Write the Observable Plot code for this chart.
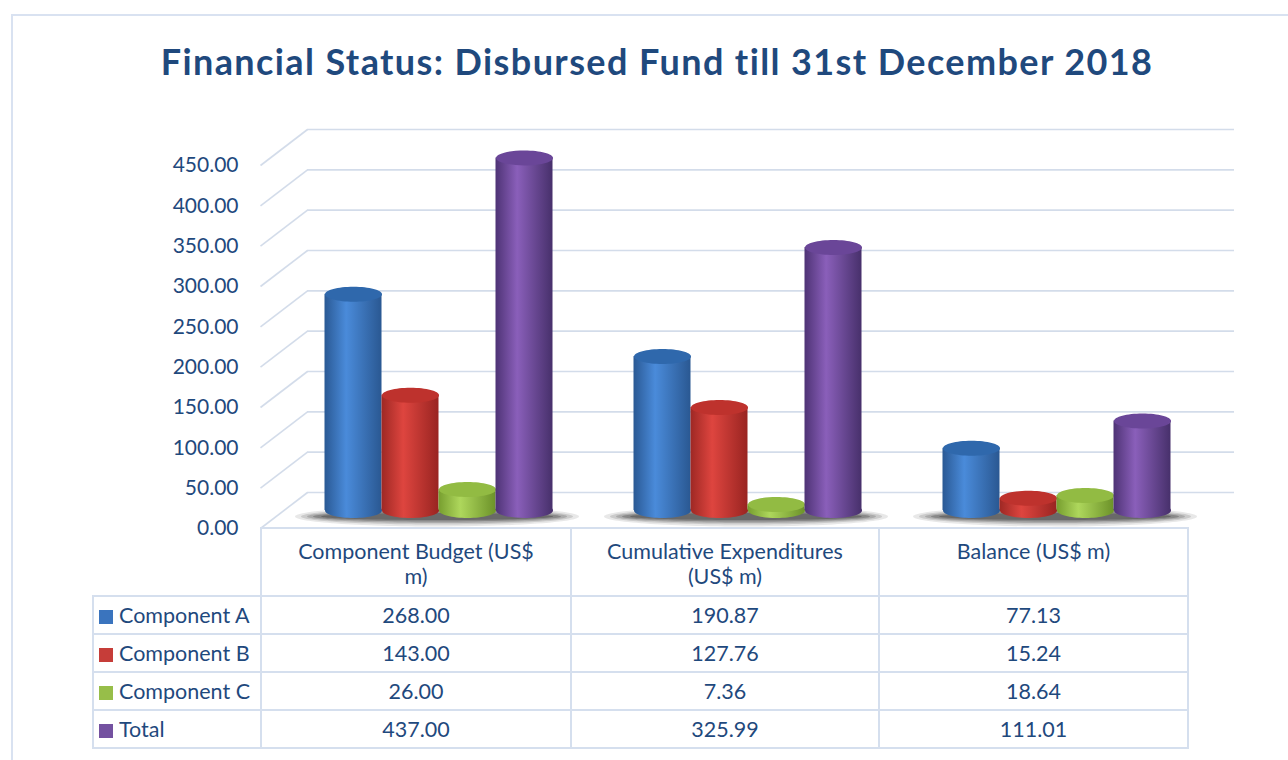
<!DOCTYPE html>
<html>
<head>
<meta charset="utf-8">
<script src="https://cdn.jsdelivr.net/npm/d3@7"></script>
<script src="https://cdn.jsdelivr.net/npm/@observablehq/plot@0.6"></script>
<style>
  html, body { margin: 0; padding: 0; background: #ffffff; }
  body { width: 1288px; height: 760px; overflow: hidden; position: relative; font-family: Lato, "Open Sans", sans-serif; }
  #frame { position: absolute; left: 11px; top: 14px; width: 1320px; height: 800px; border: 2px solid #D9E2F1; box-sizing: border-box; }
  #title { position: absolute; left: 12px; width: 1290px; top: 39px; text-align: center; font-weight: 700; font-size: 36px; letter-spacing: 1.4px; color: #1F497D; white-space: nowrap; }
  #chart { position: absolute; left: 0; top: 100px; }
  #table { position: absolute; left: 92px; top: 527px; border-collapse: collapse; color: #1F497D; font-size: 21.5px; }
  #table td { border: 2px solid #D5DFEE; text-align: center; padding: 0; box-sizing: border-box; }
  #table td.blank { border-top: none; border-left: none; }
  #table td.head { vertical-align: top; height: 68px; }
  #table td.head div { width: 262px; margin: 10px auto 0; line-height: 25px; }
  #table tr.data td { height: 38px; line-height: 34px; }
  #table td.lab { text-align: left; padding-left: 5px; white-space: nowrap; }
  .sw { display: inline-block; width: 14px; height: 14px; margin-right: 6px; vertical-align: -1px; }
</style>
</head>
<body>
<div id="frame"></div>
<div id="title">Financial Status: Disbursed Fund till 31st December 2018</div>
<div id="chart"></div>
<table id="table"></table>
<script>
// ---- data ----
const categories = ["Component Budget (US$ m)", "Cumulative Expenditures (US$ m)", "Balance (US$ m)"];
const seriesNames = ["Component A", "Component B", "Component C", "Total"];
const componentA = [268.00, 190.87, 77.13];
const componentB = [143.00, 127.76, 15.24];
const componentC = [26.00, 7.36, 18.64];
const total = [437.00, 325.99, 111.01];
const yTicks = [0, 50, 100, 150, 200, 250, 300, 350, 400, 450];

// ---- styles ----
const textColor = "#1F497D";
const gridColor = "#D3DCEA";
const bodyStops = [
  ["#2A5994", "#4A8BDA", "#2A5892"],
  ["#9E2824", "#DE453F", "#992421"],
  ["#779E2F", "#AED75C", "#6C9229"],
  ["#4E3375", "#8A5FBA", "#47306B"]
];
const topColors = ["#2F68AC", "#BE322D", "#92BB43", "#6A4698"];
const swatchColors = ["#3A74BE", "#C63D39", "#97BE49", "#7451A0"];

const seriesValues = [componentA, componentB, componentC, total];
const rows = categories.map((c, i) => ({category: c, i, v: seriesValues.map(s => s[i])}));

// ---- layout constants ----
const W = 1288, H = 440, ML = 260, MR = 101, MT = 65, MB = 12;
const depthX = 47, depthY = 36;
const unitX = categories.length / (W - ML - MR);
const unitY = 450 / (H - MT - MB);
const barW = 57, rx = 28.5, ry = 7.5;
const groupShift = 24, midDy = -18;

function ellipse(a, b) {
  const k = 0.5523;
  return {
    draw(ctx) {
      ctx.moveTo(a, 0);
      ctx.bezierCurveTo(a, b * k, a * k, b, 0, b);
      ctx.bezierCurveTo(-a * k, b, -a, b * k, -a, 0);
      ctx.bezierCurveTo(-a, -b * k, -a * k, -b, 0, -b);
      ctx.bezierCurveTo(a * k, -b, a, -b * k, a, 0);
      ctx.closePath();
    }
  };
}
const cx = d => d.i + 0.5;

// soft floor shadow: layered translucent ellipses
const shadowLayers = [[142, 10, 0.10], [136, 8, 0.14], [130, 6.5, 0.18], [124, 5, 0.24], [116, 3.5, 0.28]];
const shadowMarks = shadowLayers.map(([a, b, o]) =>
  Plot.dot(rows, {x: cx, y: 0, symbol: ellipse(a, b), fill: "#1a1a1a", fillOpacity: o, dx: groupShift - 2, dy: -12})
);

const cylinderMarks = seriesNames.flatMap((name, j) => {
  const dx = groupShift + (j - 1.5) * barW;
  return [
    Plot.dot(rows, {x: cx, y: 0, symbol: ellipse(rx, ry), fill: `url(#body${j})`, dx, dy: midDy}),
    Plot.rectY(rows, {x1: cx, x2: cx, y1: 0, y2: d => d.v[j], insetLeft: -rx, insetRight: -rx, fill: `url(#body${j})`, dx, dy: midDy}),
    Plot.dot(rows, {x: cx, y: d => d.v[j], symbol: ellipse(rx, ry), fill: topColors[j], dx, dy: midDy})
  ];
});

const chart = Plot.plot({
  width: W, height: H,
  marginLeft: ML, marginRight: MR, marginTop: MT, marginBottom: MB,
  x: {domain: [0, categories.length], axis: null},
  y: {domain: [0, 450], axis: null},
  style: {fontFamily: "Lato, 'Open Sans', sans-serif", background: "transparent", overflow: "visible"},
  marks: [
    Plot.ruleY(yTicks, {y: d => d, dx: depthX, dy: -depthY, stroke: gridColor, strokeWidth: 1.6}),
    Plot.link(yTicks, {x1: 0, y1: d => d, x2: depthX * unitX, y2: d => d + depthY * unitY, stroke: gridColor, strokeWidth: 1.6}),
    Plot.text(yTicks, {x: 0, y: d => d, text: d => d.toFixed(2), textAnchor: "end", dx: -22, fontSize: 21, fill: textColor}),
    ...shadowMarks,
    ...cylinderMarks
  ]
});

// gradients
const svg = d3.select(chart);
const defs = svg.insert("defs", ":first-child");
bodyStops.forEach((st, j) => {
  const g = defs.append("linearGradient").attr("id", `body${j}`).attr("x1", "0%").attr("x2", "100%").attr("y1", "0%").attr("y2", "0%");
  g.append("stop").attr("offset", "0%").attr("stop-color", st[0]);
  g.append("stop").attr("offset", "38%").attr("stop-color", st[1]);
  g.append("stop").attr("offset", "100%").attr("stop-color", st[2]);
});
document.getElementById("chart").appendChild(chart);

// ---- data table ----
const table = d3.select("#table");
const colW = [168, 310, 308, 309];
const head = table.append("tr");
head.append("td").attr("class", "blank head").style("width", colW[0] + "px");
categories.forEach((c, i) => head.append("td").attr("class", "head").style("width", colW[i + 1] + "px").append("div").text(c));
seriesNames.forEach((name, j) => {
  const tr = table.append("tr").attr("class", "data");
  const lab = tr.append("td").attr("class", "lab");
  lab.append("span").attr("class", "sw").style("background", swatchColors[j]);
  lab.append("span").text(name);
  seriesValues[j].forEach(v => tr.append("td").text(v.toFixed(2)));
});
</script>
</body>
</html>
